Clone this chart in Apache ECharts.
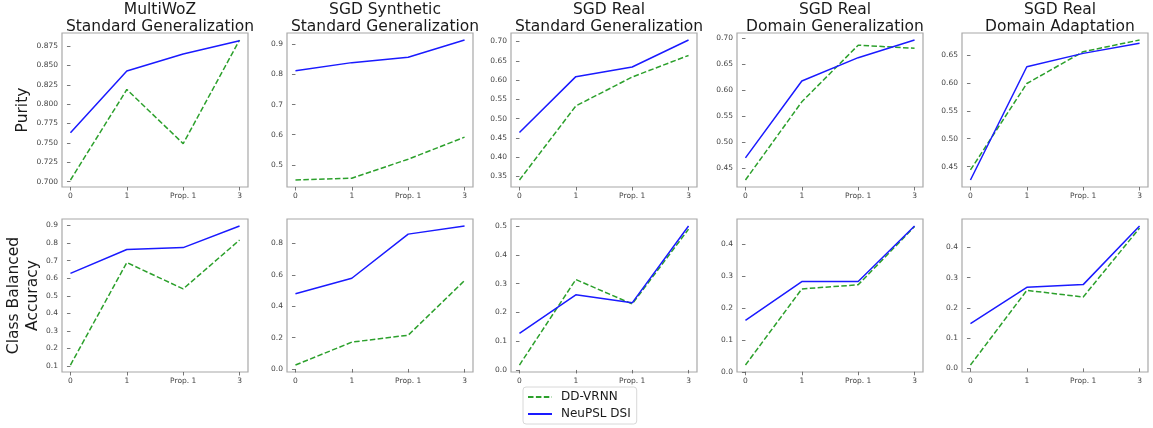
<!DOCTYPE html>
<html>
<head>
<meta charset="utf-8">
<script src="https://cdn.jsdelivr.net/npm/echarts@6/dist/echarts.min.js"></script>
<style>
html,body{margin:0;padding:0;background:#fff;}
#chart{width:1153px;height:428px;}
</style>
</head>
<body>
<div id="chart"></div>
<script>
// ---- data ----
const xValues = [0, 1, 2, 3];
const xLabels = ['0', '1', 'Prop. 1', '3'];
const seriesNames = ['DD-VRNN', 'NeuPSL DSI'];
const colTitles = [
  'MultiWoZ\nStandard Generalization',
  'SGD Synthetic\nStandard Generalization',
  'SGD Real\nStandard Generalization',
  'SGD Real\nDomain Generalization',
  'SGD Real\nDomain Adaptation'
];
const rowNames = ['Purity', 'Class Balanced\nAccuracy'];

// Purity (top row)
const purityDD = [
  [0.702, 0.819, 0.749, 0.883],
  [0.450, 0.456, 0.519, 0.592],
  [0.341, 0.533, 0.608, 0.664],
  [0.4275, 0.578, 0.687, 0.681],
  [0.444, 0.599, 0.656, 0.677]
];
const purityNeu = [
  [0.763, 0.843, 0.865, 0.882],
  [0.812, 0.839, 0.857, 0.914],
  [0.464, 0.609, 0.634, 0.704],
  [0.470, 0.618, 0.663, 0.697],
  [0.426, 0.629, 0.653, 0.671]
];
// Class balanced accuracy (bottom row)
const cbaDD = [
  [0.106, 0.689, 0.539, 0.817],
  [0.025, 0.171, 0.215, 0.563],
  [0.017, 0.314, 0.229, 0.489],
  [0.021, 0.259, 0.272, 0.454],
  [0.011, 0.258, 0.236, 0.464]
];
const cbaNeu = [
  [0.627, 0.763, 0.774, 0.897],
  [0.479, 0.578, 0.859, 0.911],
  [0.127, 0.261, 0.233, 0.500],
  [0.161, 0.282, 0.282, 0.456],
  [0.148, 0.268, 0.277, 0.471]
];
// y tick values per panel
const purityTicks = [
  [0.700, 0.725, 0.750, 0.775, 0.800, 0.825, 0.850, 0.875],
  [0.5, 0.6, 0.7, 0.8, 0.9],
  [0.35, 0.40, 0.45, 0.50, 0.55, 0.60, 0.65, 0.70],
  [0.45, 0.50, 0.55, 0.60, 0.65, 0.70],
  [0.45, 0.50, 0.55, 0.60, 0.65]
];
const purityDecimals = [3, 1, 2, 2, 2];
const cbaTicks = [
  [0.1, 0.2, 0.3, 0.4, 0.5, 0.6, 0.7, 0.8, 0.9],
  [0.0, 0.2, 0.4, 0.6, 0.8],
  [0.0, 0.1, 0.2, 0.3, 0.4, 0.5],
  [0.0, 0.1, 0.2, 0.3, 0.4],
  [0.0, 0.1, 0.2, 0.3, 0.4]
];
const cbaDecimals = [1, 1, 1, 1, 1];

// ---- layout ----
const FONT = 'DejaVu Sans';
const colLeft = [62, 287, 511, 737, 962];
const colWidth = 186;
const rowTop = [33, 219];
const rowHeight = [154, 153];
const GREEN = '#2ca02c';
const BLUE = '#1a1aff';

const grids = [], xAxes = [], yAxes = [], series = [], titles = [];
const rows = [
  {dd: purityDD, neu: purityNeu, ticks: purityTicks, dec: purityDecimals},
  {dd: cbaDD, neu: cbaNeu, ticks: cbaTicks, dec: cbaDecimals}
];

colTitles.forEach((t, c) => {
  titles.push({
    text: t,
    left: colLeft[c] + colWidth / 2,
    top: -4,
    textAlign: 'center',
    textStyle: {fontFamily: FONT, fontSize: 15.5, fontWeight: 'normal', color: '#1a1a1a', lineHeight: 17}
  });
});

rows.forEach((row, r) => {
  for (let c = 0; c < 5; c++) {
    const idx = grids.length;
    grids.push({
      left: colLeft[c], top: rowTop[r], width: colWidth, height: rowHeight[r],
      show: true, borderColor: '#a8a8a8', borderWidth: 1.2, backgroundColor: 'transparent'
    });
    xAxes.push({
      type: 'value', gridIndex: idx, min: -0.15, max: 3.15,
      axisLine: {show: false},
      splitLine: {show: false},
      axisTick: {show: true, length: 3.5, customValues: xValues, lineStyle: {color: '#555', width: 0.8}},
      axisLabel: {
        customValues: xValues, margin: 5,
        fontFamily: FONT, fontSize: 7.5, color: '#444',
        formatter: v => xLabels[xValues.indexOf(Math.round(v))] || ''
      }
    });
    const all = row.dd[c].concat(row.neu[c]);
    const lo = Math.min(...all), hi = Math.max(...all);
    const pad = (hi - lo) * 0.05;
    const dec = row.dec[c];
    yAxes.push({
      type: 'value', gridIndex: idx, min: lo - pad, max: hi + pad,
      axisLine: {show: false},
      splitLine: {show: false},
      axisTick: {show: true, length: 3.5, customValues: row.ticks[c], lineStyle: {color: '#555', width: 0.8}},
      axisLabel: {
        customValues: row.ticks[c], margin: 4,
        fontFamily: FONT, fontSize: 7.5, color: '#444',
        formatter: v => v.toFixed(dec)
      },
      name: c === 0 ? rowNames[r] : '',
      nameLocation: 'middle',
      nameRotate: 90,
      nameGap: r === 0 ? 27 : 19,
      nameTextStyle: {fontFamily: FONT, fontSize: 15.5, color: '#1a1a1a', lineHeight: 19}
    });
    series.push({
      name: seriesNames[0], type: 'line', xAxisIndex: idx, yAxisIndex: idx,
      data: xValues.map((x, i) => [x, row.dd[c][i]]),
      symbol: 'none', silent: true, animation: false,
      lineStyle: {color: GREEN, width: 1.5, type: [5.5, 2.4]},
      itemStyle: {color: GREEN}
    });
    series.push({
      name: seriesNames[1], type: 'line', xAxisIndex: idx, yAxisIndex: idx,
      data: xValues.map((x, i) => [x, row.neu[c][i]]),
      symbol: 'none', silent: true, animation: false,
      lineStyle: {color: BLUE, width: 1.5, type: 'solid'},
      itemStyle: {color: BLUE}
    });
  }
});

const chart = echarts.init(document.getElementById('chart'), null, {renderer: 'canvas'});
chart.setOption({
  backgroundColor: '#ffffff',
  animation: false,
  title: titles,
  grid: grids,
  xAxis: xAxes,
  yAxis: yAxes,
  series: series,
  legend: {
    data: seriesNames,
    orient: 'vertical',
    left: 523, top: 387,
    itemWidth: 24, itemHeight: 10, itemGap: 5,
    padding: [4, 6, 4, 4],
    itemStyle: {opacity: 0},
    borderColor: '#d8d8d8', borderWidth: 1, borderRadius: 3,
    textStyle: {fontFamily: FONT, fontSize: 12, color: '#1a1a1a', padding: [0, 0, 0, 4]}
  }
});
</script>
</body>
</html>
